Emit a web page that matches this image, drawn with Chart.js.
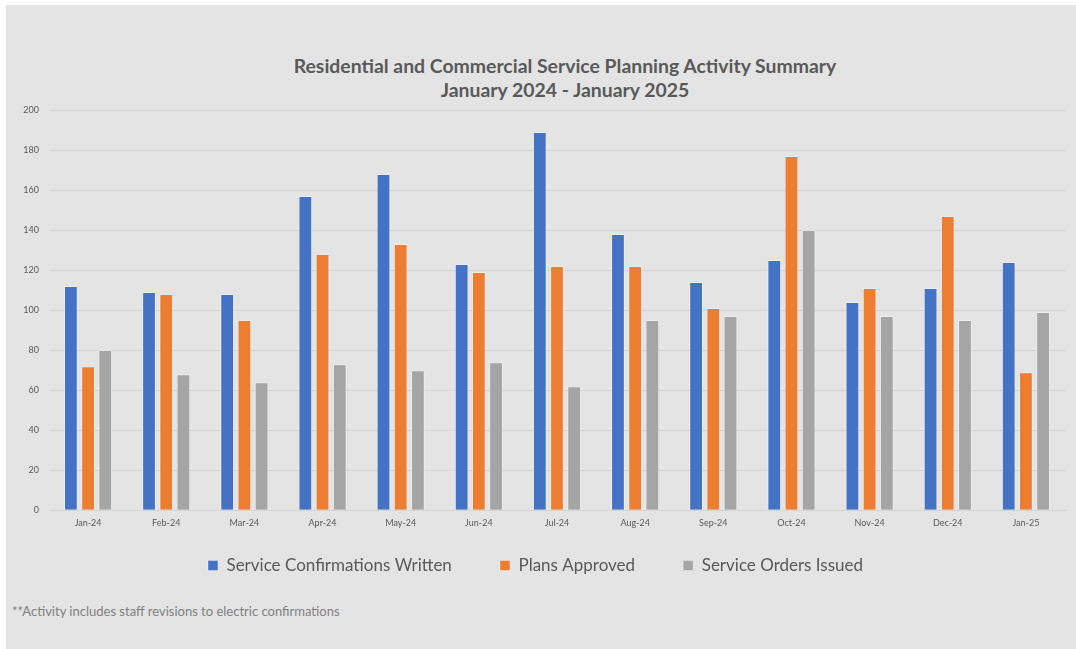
<!DOCTYPE html>
<html>
<head>
<meta charset="utf-8">
<script src="https://cdn.jsdelivr.net/npm/chart.js@4"></script>
<style>
    html, body { margin: 0; padding: 0; background: #ffffff; }
    body { width: 1076px; height: 649px; position: relative; overflow: hidden; }
    .panel { position: absolute; left: 6px; top: 5px; right: 0; bottom: 0; background: #e4e4e4; }
    .title {
        position: absolute; left: 215px; width: 700px; top: 54px;
        text-align: center; font-family: Lato, sans-serif; font-weight: bold;
        font-size: 19.4px; line-height: 24px; color: #595959;
    }
    .note {
        position: absolute; left: 12px; top: 603px;
        font-family: Lato, sans-serif; font-size: 13px; color: #808080;
    }
    #chart { position: absolute; left: 0; top: 0; }
</style>
</head>
<body>
<div class="panel"></div>
<div class="title">Residential and Commercial Service Planning Activity Summary<br>January 2024 - January 2025</div>
<div class="note">**Activity includes staff revisions to electric confirmations</div>
<canvas id="chart" width="1076" height="649"></canvas>
<script>
const months = ['Jan-24', 'Feb-24', 'Mar-24', 'Apr-24', 'May-24', 'Jun-24', 'Jul-24',
    'Aug-24', 'Sep-24', 'Oct-24', 'Nov-24', 'Dec-24', 'Jan-25'];
const confirmationsWritten = [112, 109, 108, 157, 168, 123, 189, 138, 114, 125, 104, 111, 124];
const plansApproved = [72, 108, 95, 128, 133, 119, 122, 122, 101, 177, 111, 147, 69];
const ordersIssued = [80, 68, 64, 73, 70, 74, 62, 95, 97, 140, 97, 95, 99];
const yTicks = [0, 20, 40, 60, 80, 100, 120, 140, 160, 180, 200];

document.addEventListener('DOMContentLoaded', function() {
    const ctx = document.getElementById('chart').getContext('2d');

    function series(label, data, color) {
        return {
            label: label,
            data: data,
            backgroundColor: color,
            borderColor: 'rgba(255, 255, 255, 0.35)',
            borderWidth: 1,
            categoryPercentage: 0.66,
            barPercentage: 0.8
        };
    }

    new Chart(ctx, {
        type: 'bar',
        data: {
            labels: months,
            datasets: [
                series('Service Confirmations Written', confirmationsWritten, '#4472c4'),
                series('Plans Approved', plansApproved, '#ed7d31'),
                series('Service Orders Issued', ordersIssued, '#a5a5a5')
            ]
        },
        options: {
            responsive: false,
            animation: false,
            layout: {
                padding: { left: 6, right: 11, top: 110, bottom: 65 }
            },
            plugins: {
                legend: {
                    position: 'bottom',
                    labels: {
                        boxWidth: 10,
                        boxHeight: 10,
                        padding: 22,
                        color: '#595959',
                        font: { family: 'Lato', size: 17 },
                        // wider gaps between items than the vertical padding allows
                        generateLabels: function(chart) {
                            const items = Chart.defaults.plugins.legend.labels.generateLabels(chart);
                            items.forEach(function(item, i) {
                                if (i < items.length - 1) item.text += '      ';
                            });
                            return items;
                        }
                    }
                },
                tooltip: { enabled: false }
            },
            scales: {
                x: {
                    grid: { display: false, drawTicks: false },
                    border: { color: '#d4d4d4' },
                    ticks: {
                        color: '#595959',
                        font: { family: 'Lato', size: 9 },
                        padding: 7,
                        maxRotation: 0
                    }
                },
                y: {
                    min: 0,
                    max: 200,
                    afterFit: function(scale) { scale.width = 43; },
                    afterBuildTicks: function(scale) {
                        scale.ticks = yTicks.map(function(v) { return { value: v }; });
                    },
                    grid: { color: '#d4d4d4', drawTicks: false },
                    border: { display: false },
                    ticks: {
                        color: '#595959',
                        font: { family: 'Lato', size: 9 },
                        padding: 10
                    }
                }
            }
        }
    });
});
</script>
</body>
</html>
